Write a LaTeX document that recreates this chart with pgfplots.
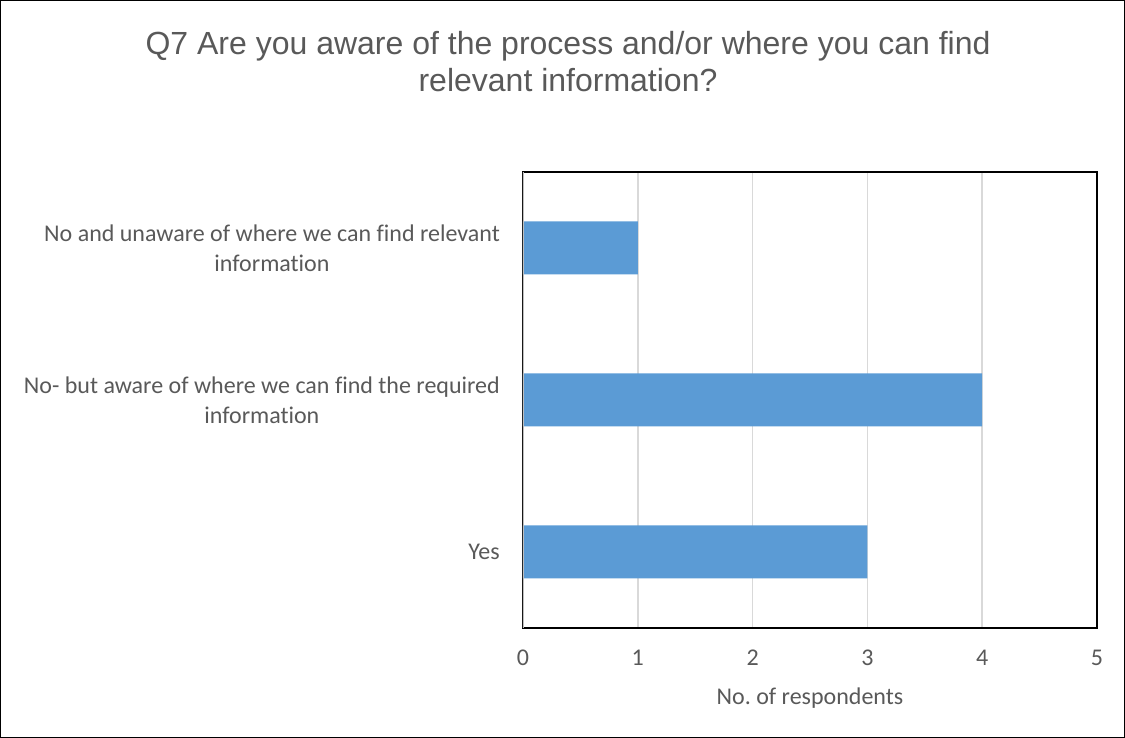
\documentclass[border=0pt]{standalone}
\usepackage{pgfplots}
\pgfplotsset{compat=1.18}
\usepackage{fontspec}
\setmainfont{Carlito}[Ligatures=NoCommon]
\newfontfamily\titlefont{Liberation Sans}
\definecolor{txt}{HTML}{595959}
\definecolor{barc}{HTML}{5B9BD5}
\definecolor{gridc}{HTML}{D9D9D9}
\definecolor{leftc}{HTML}{BFBFBF}
\frenchspacing
\begin{document}
\begin{tikzpicture}[x=1pt,y=1pt]
\useasboundingbox (0,0) rectangle (1125,738);
\draw[black, line width=1.2pt] (0.6,0.6) rectangle (1124.4,737.4);
\node[anchor=base, text=txt, font=\titlefont\fontsize{32}{37}\selectfont, inner sep=0] at (568,683) {Q7 Are you aware of the process and/or where you can find};
\node[anchor=base, text=txt, font=\titlefont\fontsize{32}{37}\selectfont, inner sep=0] at (568,646) {relevant information?};
\begin{axis}[
  at={(523pt,110pt)}, anchor=south west,
  scale only axis, width=574pt, height=456pt,
  xbar, bar width=53pt,
  xmin=0, xmax=5, ymin=-0.5, ymax=2.5,
  xtick={0,1,2,3,4,5}, ytick={0,1,2},
  yticklabels={Yes, {No- but aware of where we can find the required\\information}, {No and unaware of where we can find relevant\\information}},
  /pgf/number format/assume math mode=true,
  major tick length=0pt,
  xmajorgrids, grid style={gridc, line width=1.5pt},
  axis line style={black, line width=1.5pt},
  every tick label/.append style={text=txt, font=\fontsize{24}{30}\selectfont},
  xticklabel style={anchor=north, inner sep=0pt, yshift=-22pt},
  yticklabel style={align=center, anchor=east, inner sep=0pt, xshift=-23pt},
  xlabel={No. of respondents},
  xlabel style={at={(axis description cs:0.5,0)}, anchor=north, inner sep=0pt, yshift=-60pt, text=txt, font=\fontsize{24}{30}\selectfont},
]
\addplot[fill=barc, draw=none] coordinates {(3,0) (4,1) (1,2)};
\draw[leftc, line width=2pt] (axis cs:0,-0.5) -- (axis cs:0,2.5);
\end{axis}
\end{tikzpicture}
\end{document}
